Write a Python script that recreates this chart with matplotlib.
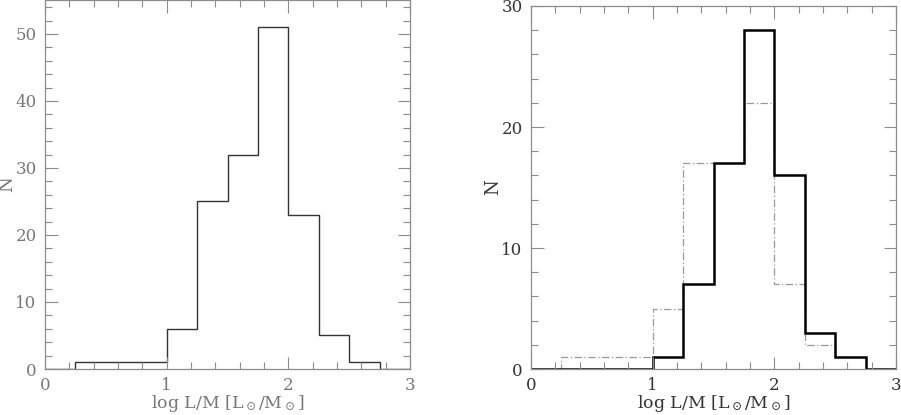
import matplotlib

matplotlib.use("Agg")

import matplotlib.pyplot as plt
import numpy as np
from matplotlib.ticker import MultipleLocator

# bin edges in log L/M, width 0.25
edges = np.arange(0.0, 3.0001, 0.25)

# left panel: full sample
n_all = [0, 1, 1, 1, 6, 25, 32, 51, 23, 5, 1, 0]

# right panel: two subsamples
n_thick = [0, 0, 0, 0, 1, 7, 17, 28, 16, 3, 1, 0]
n_dashdot = [0, 1, 1, 1, 5, 17, 17, 22, 7, 2, 1, 0]

xlabel = r"log L/M [L$_\odot$/M$_\odot$]"

plt.rcParams["font.family"] = "DejaVu Serif"
plt.rcParams["mathtext.fontset"] = "dejavuserif"

W, H = 901, 415
fig = plt.figure(figsize=(W / 100, H / 100), dpi=100)

frame_col = "#8c8c8c"


def style(ax, ymax, label_col):
    ax.set_xlim(0, 3)
    ax.set_ylim(0, ymax)
    ax.xaxis.set_major_locator(MultipleLocator(1))
    ax.xaxis.set_minor_locator(MultipleLocator(0.2))
    ax.yaxis.set_major_locator(MultipleLocator(10))
    ax.yaxis.set_minor_locator(MultipleLocator(2))
    ax.tick_params(which="both", direction="in", top=True, right=True,
                   color=frame_col, width=0.8, labelsize=12,
                   labelcolor=label_col)
    ax.tick_params(which="major", length=9)
    ax.tick_params(which="minor", length=5)
    ax.tick_params(axis="x", which="major", pad=6)
    ax.tick_params(axis="y", which="major", pad=6)
    for s in ax.spines.values():
        s.set_color(frame_col)
        s.set_linewidth(0.9)
    ax.set_xlabel(xlabel, fontsize=12.5, color=label_col, labelpad=-1)
    ax.set_ylabel("N", fontsize=13, color=label_col)
    ax.yaxis.set_label_coords(-0.078, 0.5)


# left panel
ax1 = fig.add_axes([45 / W, (H - 369) / H, 365 / W, 369 / H])
ax1.stairs(n_all, edges, color="#333333", linewidth=1.0)
style(ax1, 55.07, "#777777")

# right panel
ax2 = fig.add_axes([531 / W, (H - 369) / H, 365 / W, 363 / H])
ax2.stairs(n_dashdot, edges, color="#999999", linewidth=0.9,
           linestyle=(0, (6, 2, 1, 2)))
ax2.stairs(n_thick, edges, color="black", linewidth=1.8)
style(ax2, 30, "#333333")

fig.savefig("out.png", dpi=100)
